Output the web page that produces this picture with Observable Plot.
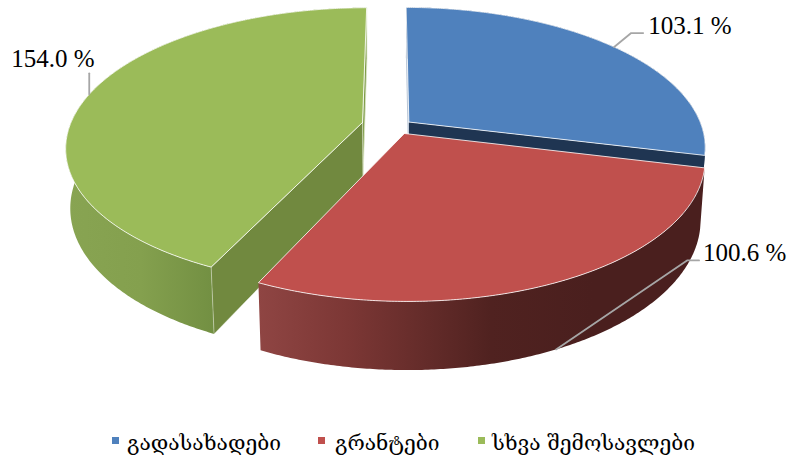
<!DOCTYPE html>
<html>
<head>
<meta charset="utf-8">
<script src="https://cdn.jsdelivr.net/npm/d3@7"></script>
<script src="https://cdn.jsdelivr.net/npm/@observablehq/plot@0.6"></script>
<style>
html,body{margin:0;padding:0;background:#fff;width:791px;height:457px;overflow:hidden}
#chart svg{display:block}
#legend{position:relative;height:32px;font-family:"DejaVu Serif","DejaVu Sans";font-size:21px;color:#000}
#legend span{position:absolute;top:0;white-space:nowrap;line-height:36px}
#legend i{position:absolute;top:12px;width:7px;height:7px}
</style>
</head>
<body>
<div id="chart"></div>
<div id="legend"></div>
<script>
// Data
const categories = ["გადასახადები", "გრანტები", "სხვა შემოსავლები"];
const values = [103.1, 100.6, 154.0];
const topColors = ["#4f81bd", "#c0504d", "#9bbb59"];
const legendSwatchX = [112, 318, 478];
const legendTextX = [127, 335, 492];

// Chart geometry (3D perspective of the pie plane)
const W = 791, H = 425;
const cx = 390, cy = 126, R = 293, S = 136, k = 0.174, depth = 59.5, recede = 0.014;
const explode = [[0.063, 0.033], [0.047, -0.051], [-0.096, 0.030]];
const leaderBends = [[17, -14, 12, 0], [131, -89, 12, 0], [0, -21, 0, 0]];
const leaderDepth = [0, 1, 0];
const labelOffset = [[5, -7], [4, -7], [-78, -14]];

function project(i, r, theta, z) {
  const X = r * Math.sin(theta) + explode[i][0];
  const Y = r * Math.cos(theta) + explode[i][1];
  const D = 1 + k * Y + recede * z;
  return {x: cx + R * X / D, y: cy + (-S * Y + depth * z) / D};
}
const arcs = d3.pie().sort(null).startAngle(0).endAngle(2 * Math.PI)(values)
  .sort((a, b) => a.index - b.index);
const TAU = Math.PI * 2;
function rim(i, a0, a1, z) {
  const n = Math.max(2, Math.ceil(Math.abs(a1 - a0) / (TAU / 720)));
  return d3.range(n + 1).map(j => project(i, 1, a0 + (a1 - a0) * j / n, z));
}
function topFace(i) {
  const a = arcs[i];
  const apex = project(i, 0, 0, 0);
  return [apex, ...rim(i, a.startAngle, a.endAngle, 0), apex];
}
function outerWall(i, a0, a1) {
  const t = rim(i, a0, a1, 0), b = rim(i, a1, a0, 1);
  return [...t, ...b, t[0]];
}
function radialWall(i, a) {
  return [project(i, 0, 0, 0), project(i, 1, a, 0), project(i, 1, a, 1), project(i, 0, 0, 1), project(i, 0, 0, 0)];
}
const face = (pts, fill, extra = {}) =>
  Plot.line(pts, {x: "x", y: "y", fill, stroke: "none", curve: "linear", ...extra});

const edge = {stroke: "#ffffff", strokeOpacity: 0.8, strokeWidth: 1, strokeLinejoin: "round"};
const [blue, red, green] = arcs;

// Leaders & labels
const leaders = arcs.map((a, i) => {
  const mid = (a.startAngle + a.endAngle) / 2;
  const p0 = project(i, 1, mid, leaderDepth[i]);
  const [dx, dy, hx, hy] = leaderBends[i];
  return [p0, {x: p0.x + dx, y: p0.y + dy}, {x: p0.x + dx + hx, y: p0.y + dy + hy}];
});
const labels = leaders.map((l, i) => ({
  x: l[2].x + labelOffset[i][0],
  y: l[2].y + labelOffset[i][1],
  text: values[i].toFixed(1) + " %"
}));

const plot = Plot.plot({
  width: W, height: H, margin: 0,
  x: {domain: [0, W], axis: null},
  y: {domain: [H, 0], axis: null},
  style: {background: "#fff"},
  marks: [
    // green slice
    face(outerWall(2, green.startAngle, green.endAngle), "url(#greenSide)"),
    face(radialWall(2, green.endAngle), "#7f9c4a", {stroke: "#dfe8cc", strokeWidth: 0.8}),
    face(radialWall(2, green.startAngle), "#71893f", {stroke: "#ffffff", strokeOpacity: 0.6, strokeWidth: 0.6}),
    face(topFace(2), topColors[2], edge),
    // blue slice
    face(outerWall(0, blue.startAngle, blue.endAngle), "#1f3552"),
    face(radialWall(0, blue.endAngle), "#1f3552"),
    face(radialWall(0, blue.startAngle), "#b9c6d6"),
    face(topFace(0), topColors[0], edge),
    // red slice
    face(outerWall(1, red.startAngle, red.endAngle), "url(#redSide)"),
    face(topFace(1), topColors[1], edge),
    // leaders and labels
    ...leaders.map(l => Plot.line(l, {x: "x", y: "y", stroke: "#a6a6a6", strokeWidth: 1.8, curve: "linear"})),
    Plot.text(labels, {x: "x", y: "y", text: "text", textAnchor: "start", fontSize: 25, fontFamily: "Liberation Serif", fill: "#000"})
  ]
});

// Gradients for the curved side walls
const defs = d3.select(plot).insert("defs", ":first-child");
function gradient(id, x1, x2, stops) {
  const g = defs.append("linearGradient").attr("id", id).attr("gradientUnits", "userSpaceOnUse")
    .attr("x1", x1).attr("x2", x2).attr("y1", 0).attr("y2", 0);
  stops.forEach(([o, c]) => g.append("stop").attr("offset", o).attr("stop-color", c));
}
gradient("redSide", 258, 704, [[0, "#8f4543"], [0.2, "#7c3735"], [0.52, "#502220"], [0.75, "#4a1f1e"], [1, "#4a1f1e"]]);
gradient("greenSide", 66, 215, [[0, "#88a452"], [0.5, "#84a04e"], [1, "#728f42"]]);

document.getElementById("chart").appendChild(plot);

// Legend
const legend = d3.select("#legend");
categories.forEach((c, i) => {
  legend.append("i").style("left", legendSwatchX[i] + "px").style("background", topColors[i]);
  legend.append("span").style("left", legendTextX[i] + "px").text(c);
});
</script>
</body>
</html>
